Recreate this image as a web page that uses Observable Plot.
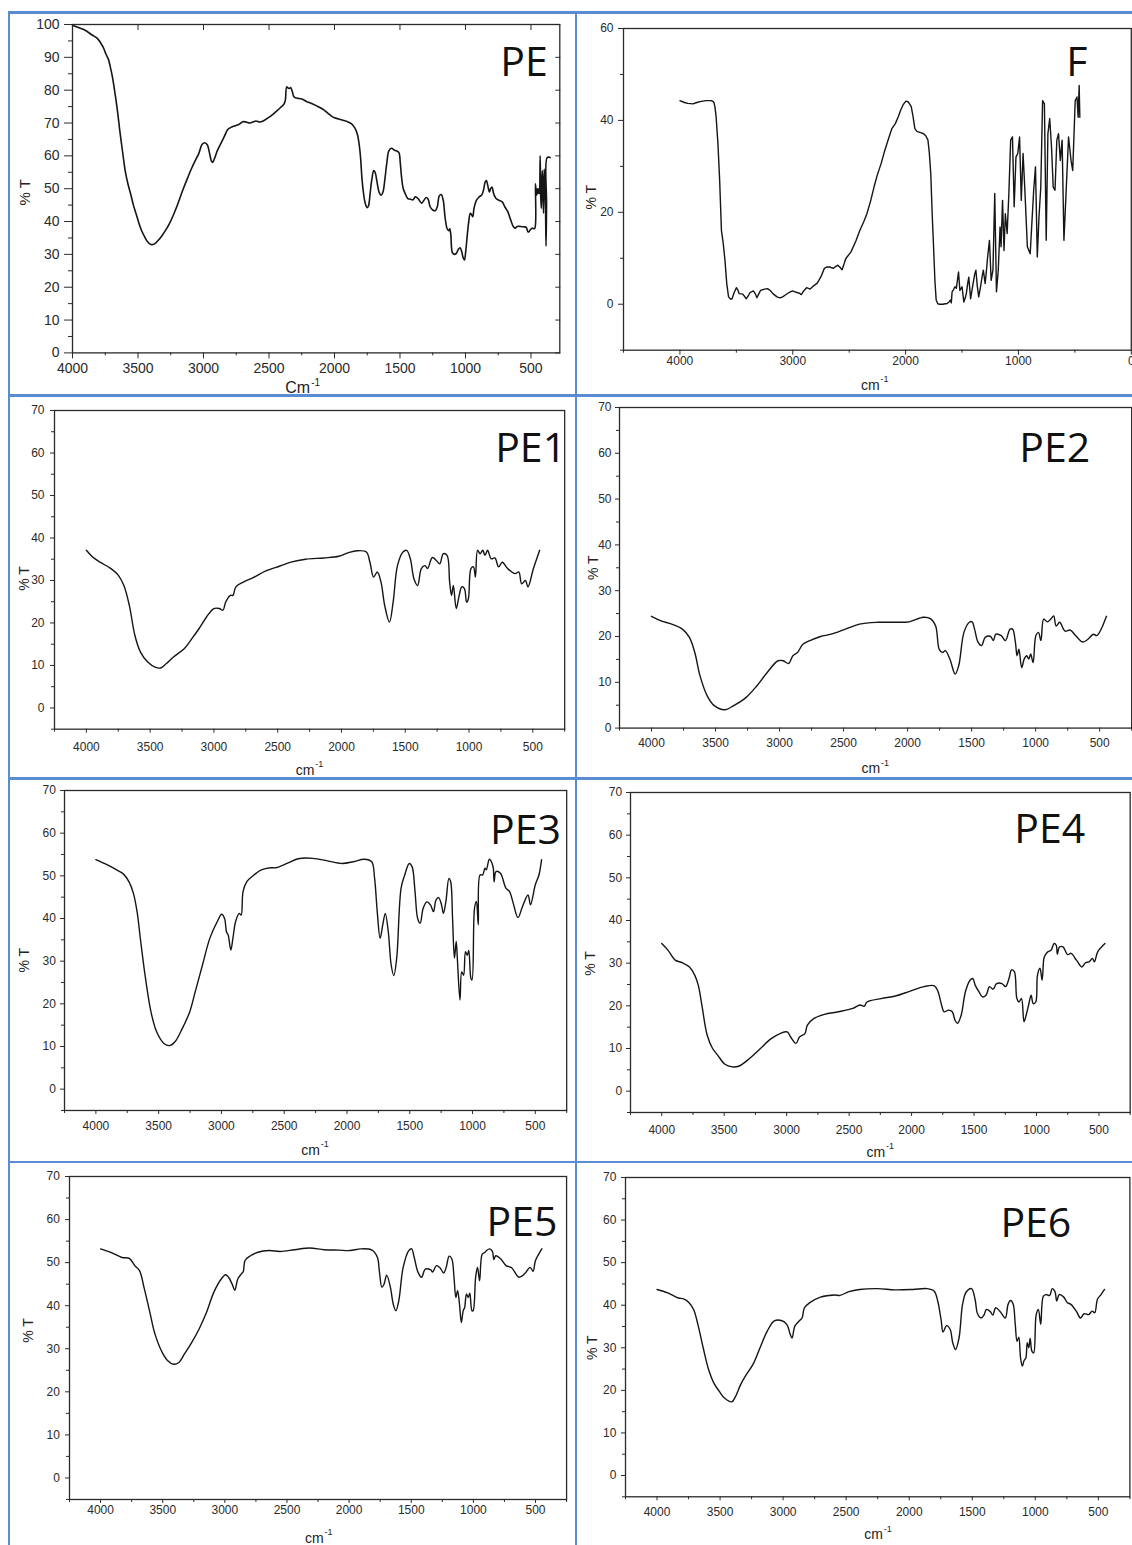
<!DOCTYPE html>
<html><head><meta charset="utf-8">
<script src="https://cdn.jsdelivr.net/npm/d3@7"></script>
<script src="https://cdn.jsdelivr.net/npm/@observablehq/plot@0.6"></script>
<style>
body{margin:0;background:#fff;}
#page{position:relative;width:1132px;height:1545px;overflow:hidden;background:#fff;}
.bl{position:absolute;background:rgb(90,140,212);}
</style></head><body><div id="page"></div>
<script>
// ---------- data: [wavenumber (cm-1), %T] ----------
const PE = [[4000,99.8],[3950,99],[3907,98.3],[3850,96.8],[3809,95.7],[3767,93.2],[3745,91],[3725,89.3],[3711,87],[3695,84],[3683,81],[3668,77],[3654,72.8],[3640,68],[3626,63.7],[3612,59.5],[3598,55.5],[3577,51.5],[3556,48.4],[3535,45],[3514,42.3],[3493,39.5],[3472,37.2],[3450,35.4],[3430,34],[3402,33],[3374,33.2],[3345,34.3],[3317,35.7],[3290,37.3],[3261,39.3],[3233,41.7],[3205,44.4],[3177,47.5],[3149,50.5],[3121,53.3],[3093,56],[3065,58.4],[3037,60.6],[3010,63.5],[2990,64],[2970,63.3],[2955,61],[2940,58.5],[2930,58],[2915,59.3],[2895,61.5],[2868,63.7],[2840,66],[2815,68],[2784,68.8],[2755,69.2],[2728,69.6],[2700,70.4],[2675,70.3],[2650,70],[2625,70.3],[2600,70.6],[2570,70.3],[2545,70.6],[2510,71.5],[2475,72.5],[2440,73.7],[2410,74.8],[2385,75.8],[2375,77],[2365,81],[2355,80.7],[2345,80.5],[2335,80.8],[2322,79.6],[2310,78],[2290,77.6],[2250,77.3],[2210,76.5],[2166,75.8],[2120,74.9],[2081,74],[2045,72.8],[2011,71.8],[1975,71.3],[1941,70.9],[1905,70.5],[1871,69.8],[1845,68.5],[1825,66.5],[1810,63],[1800,59],[1790,53],[1778,48.5],[1765,45.5],[1750,44.2],[1740,44.8],[1728,48.5],[1716,52.5],[1700,55.5],[1690,55],[1675,52],[1660,49],[1645,48],[1630,49],[1615,53],[1600,58],[1585,61.5],[1565,62.3],[1545,61.8],[1525,61.5],[1508,61],[1498,58],[1488,53.5],[1475,50],[1460,48.5],[1440,47],[1420,46.8],[1400,46.6],[1385,47.5],[1370,47.3],[1355,46.6],[1335,45.6],[1320,46.3],[1300,47.3],[1285,46.8],[1270,44.5],[1250,43.5],[1230,43.3],[1215,44.5],[1200,47.8],[1185,48.2],[1170,46.5],[1155,41],[1140,37.8],[1128,37.2],[1120,37.8],[1112,36],[1100,30.5],[1085,30],[1070,30.3],[1055,31.5],[1042,32],[1030,31],[1018,29],[1008,28.3],[998,31],[986,36],[975,40],[963,42.5],[952,42],[944,41.5],[935,44],[916,46.5],[895,47.5],[874,48.2],[860,50],[850,52],[840,52.5],[830,51],[817,49],[808,50],[798,50.5],[785,48.5],[767,47],[745,46.5],[719,46],[700,44.5],[677,43],[655,40.5],[635,38.5],[621,38],[605,38.5],[580,38.5],[555,38.4],[536,38.2],[525,37],[517,36.8],[505,37.5],[489,38],[480,37.8],[470,38],[466,51.5],[458,48],[452,50],[447,48.5],[441,50],[435,48.5],[430,60],[425,47],[421,44],[417,52],[413,55.5],[408,48],[404,42.5],[399,56],[394,50],[390,47],[385,32.5],[381,45],[376,59.5],[354,59.5]];

const F = [[4000,44.3],[3960,43.9],[3931,43.7],[3884,43.6],[3850,43.9],[3821,44.1],[3770,44.3],[3720,44.3],[3700,44],[3690,43],[3679,40.7],[3663,34.9],[3648,27],[3632,16],[3616,13.2],[3601,9.6],[3585,4.5],[3569,1.6],[3550,1.1],[3538,1.2],[3520,2.5],[3500,3.6],[3485,3],[3475,2.3],[3443,2.2],[3412,1.2],[3395,1.8],[3380,2.5],[3349,2.9],[3330,2.2],[3318,1.4],[3300,2.3],[3286,3],[3250,3.3],[3223,3.4],[3200,3],[3176,2.3],[3140,1.6],[3113,1.4],[3090,1.6],[3066,2],[3030,2.6],[3003,2.9],[2980,2.7],[2956,2.5],[2940,2.4],[2924,2.1],[2900,3],[2877,3.6],[2846,3.3],[2815,4],[2783,4.6],[2750,6],[2720,7.8],[2700,8.1],[2673,8.1],[2641,7.8],[2620,8.2],[2600,8.5],[2580,8],[2563,7.5],[2545,8.8],[2531,9.9],[2484,11.4],[2440,13.8],[2405,16.1],[2370,18],[2343,19.7],[2310,22.5],[2280,25.5],[2250,28.2],[2217,30.6],[2190,33],[2170,34.6],[2145,36.5],[2122,38.2],[2091,39.3],[2065,40.8],[2044,42.2],[2020,43.5],[1997,44.2],[1975,44],[1950,43],[1935,41],[1918,38.2],[1900,37.6],[1887,37.5],[1860,37.3],[1840,37.1],[1820,36.6],[1802,35.7],[1790,33],[1777,28.4],[1765,20],[1751,11.7],[1740,5],[1729,0.9],[1715,0.1],[1698,0],[1670,0],[1650,0.1],[1635,0.1],[1615,0.5],[1603,0.9],[1595,0.3],[1588,2.7],[1575,3.2],[1563,3.8],[1550,3.5],[1541,5.2],[1531,7],[1525,5],[1519,3],[1500,3.8],[1484,0.5],[1470,1.5],[1462,2.3],[1450,4.5],[1440,5.9],[1432,3.5],[1424,1.2],[1412,3],[1399,4.9],[1388,6.5],[1377,7.4],[1365,4],[1352,1.6],[1336,3.8],[1322,6],[1311,7.4],[1295,4.5],[1285,7],[1273,10.3],[1257,13.9],[1242,5.2],[1226,7.4],[1210,24.1],[1195,2.7],[1179,7.4],[1163,16.8],[1154,12.5],[1141,22.6],[1128,11.7],[1116,19.7],[1100,15.4],[1085,24.1],[1069,35.7],[1053,36.4],[1038,21.2],[1022,32],[1006,32.8],[990,36.4],[975,22.6],[959,32.8],[943,24.8],[921,12.5],[896,11],[865,24.8],[849,29.9],[833,10.3],[818,19],[802,25.5],[786,44.3],[770,43.6],[754,13.9],[739,37.1],[723,40.4],[707,34.2],[692,25.5],[676,24.8],[660,35.7],[645,37.1],[629,31.3],[613,35.7],[597,13.9],[581,22.6],[556,36.4],[534,31.3],[519,29.1],[497,44.3],[481,45.1],[471,40.7],[462,47.6],[456,40.7]];

const PE1 = [[4000,37.1],[3951,35.5],[3893,34.3],[3807,32.8],[3749,31.2],[3706,28.8],[3663,24.1],[3620,17.1],[3577,13.2],[3519,10.8],[3461,9.6],[3418,9.4],[3375,10.4],[3317,12],[3231,14],[3173,16.3],[3116,18.7],[3058,21.4],[3001,23.4],[2957,23.4],[2929,23],[2908,24.9],[2871,26.5],[2851,26.5],[2828,28.5],[2770,29.6],[2684,30.8],[2597,32.2],[2482,33.4],[2396,34.3],[2281,35],[2137,35.3],[2021,35.7],[1949,36.5],[1877,37],[1805,36.7],[1777,34.3],[1748,30.8],[1719,32],[1690,29.6],[1661,24.1],[1624,20.2],[1595,24.9],[1561,33.5],[1518,36.7],[1489,37.1],[1460,35.1],[1432,30.4],[1403,28.8],[1374,32.8],[1345,33.5],[1325,32.8],[1287,35.4],[1244,34.3],[1229,33.9],[1201,36.3],[1172,35.9],[1152,29.6],[1137,26.5],[1123,28.8],[1100,23.4],[1077,26.5],[1057,28.5],[1036,28.1],[1019,24.9],[1005,25.7],[985,32.8],[965,33.2],[950,30.8],[933,37.1],[913,36.3],[892,37.1],[875,35.9],[855,37.1],[826,35.1],[797,35.3],[768,33.2],[739,34.3],[697,32.8],[639,31.6],[610,32],[587,29.2],[558,30],[538,28.5],[495,32.8],[446,37.1]];

const PE2 = [[4000,24.4],[3925,23.4],[3842,22.7],[3759,21.6],[3704,19.8],[3662,16.5],[3621,11.4],[3566,7.1],[3510,4.9],[3427,4],[3358,4.9],[3261,6.7],[3178,9.2],[3095,12.2],[3012,14.7],[2971,14.7],[2929,14.1],[2896,15.8],[2860,16.5],[2818,18.3],[2763,19.1],[2680,20],[2597,20.5],[2486,21.6],[2376,22.7],[2237,23.1],[2099,23.1],[1988,23.2],[1878,24.2],[1822,23.9],[1781,22.3],[1753,17.2],[1726,16.5],[1706,16.9],[1670,15.1],[1629,11.8],[1601,13.6],[1560,20.9],[1518,23.1],[1496,23.2],[1477,21.6],[1449,18.7],[1422,18],[1394,19.8],[1352,20],[1330,19.1],[1311,20.5],[1269,20.2],[1236,19.1],[1200,21.6],[1180,21.6],[1158,18.7],[1145,15.8],[1131,17.2],[1109,13.2],[1089,15.1],[1070,15.8],[1053,15.1],[1039,16.2],[1020,14.3],[998,20.2],[978,20.9],[959,19.1],[937,23.8],[909,23.2],[881,23.8],[859,24.5],[840,22.3],[812,23.1],[771,21.2],[729,21.4],[688,20.2],[633,18.8],[591,19.4],[549,20.5],[522,20.2],[447,24.4]];

const PE3 = [[4000,53.8],[3912,52.6],[3824,51.2],[3780,50.4],[3736,48.6],[3701,45.9],[3672,41.6],[3643,34.6],[3605,26],[3561,18.1],[3517,13.5],[3458,10.7],[3414,10.2],[3370,11.1],[3312,14.2],[3253,18.1],[3209,22.8],[3151,29.1],[3092,35.4],[3033,39.3],[2998,41],[2975,40],[2960,36.9],[2946,36.1],[2925,32.6],[2907,35.7],[2887,39.3],[2858,41.2],[2843,40.8],[2828,46.3],[2799,48.6],[2741,50.2],[2682,51.4],[2609,51.9],[2565,51.9],[2477,52.9],[2389,54],[2272,54.1],[2155,53.5],[2038,52.9],[1950,53.3],[1862,53.9],[1803,53.3],[1780,49.4],[1759,41.6],[1736,35.4],[1715,38.5],[1695,41.2],[1671,36.9],[1648,29.1],[1627,26.6],[1604,30.7],[1569,47.1],[1540,50.2],[1504,52.9],[1481,52.1],[1458,46.3],[1437,40],[1417,38.9],[1393,42.4],[1364,43.9],[1335,43.2],[1311,41.6],[1291,44.3],[1270,44.9],[1247,43.2],[1232,41.2],[1212,44],[1188,49.4],[1174,48.6],[1159,40],[1144,30.7],[1130,34.6],[1121,30.7],[1100,20.9],[1086,27.5],[1071,26.7],[1056,32.2],[1042,31.4],[1030,32.5],[1013,26],[1004,25.6],[984,42.4],[969,44],[954,38.5],[940,50.2],[919,50.2],[901,51.8],[890,51.4],[866,53.9],[837,52.2],[828,48.6],[813,51],[778,50.6],[734,47.1],[705,46.3],[676,43.6],[638,40.2],[602,42.8],[558,45.5],[538,43.2],[500,47.9],[471,50.2],[450,53.8]];

const PE4 = [[4000,34.6],[3949,33],[3892,30.7],[3835,30.1],[3778,29.1],[3736,27.2],[3707,24.8],[3679,20.2],[3636,13.1],[3593,10],[3551,8.4],[3494,6.3],[3437,5.7],[3380,5.9],[3295,7.7],[3210,10],[3124,12.3],[3053,13.5],[2996,13.9],[2968,12.7],[2925,11.2],[2897,12.7],[2854,13.5],[2834,15.5],[2783,17],[2698,18],[2584,18.6],[2470,19.4],[2414,20.2],[2379,19.9],[2357,20.9],[2243,21.7],[2129,22.3],[2016,23.4],[1902,24.5],[1817,24.7],[1788,23.3],[1760,20.2],[1740,18.6],[1703,19],[1674,18.6],[1652,16.6],[1632,15.9],[1603,17.8],[1569,23.3],[1532,26],[1510,26.4],[1490,24.8],[1461,23.3],[1433,22.1],[1404,22.5],[1376,24.5],[1348,23.9],[1319,25.2],[1276,25.2],[1248,24.5],[1220,26.4],[1200,28.4],[1177,28],[1157,21.7],[1140,20.9],[1120,21.7],[1100,16.3],[1083,17.8],[1063,20.2],[1043,22.5],[1026,20.5],[1006,20.9],[992,27.2],[972,28.8],[955,26],[941,31.1],[930,31.9],[907,32.7],[884,33],[859,34.6],[842,34.2],[833,32.1],[816,33.8],[788,33.8],[751,32],[723,32.3],[680,30.7],[637,29.1],[608,30.1],[580,30.3],[552,31.1],[537,30.3],[509,32.7],[452,34.6]];

const PE5 = [[4000,53.2],[3917,52.4],[3828,51.2],[3769,51],[3725,49.3],[3686,48.1],[3651,44.3],[3606,38.8],[3562,33.4],[3503,29.1],[3459,27.2],[3414,26.4],[3370,26.8],[3325,28.8],[3266,31.5],[3207,34.6],[3148,38.4],[3089,43.1],[3029,46.2],[2994,47.2],[2970,46.6],[2941,45],[2920,43.6],[2896,46.2],[2867,47.4],[2852,47.9],[2837,50.5],[2793,51.6],[2734,52.4],[2645,52.8],[2556,52.6],[2438,53],[2319,53.4],[2201,53],[2083,52.9],[1994,52.8],[1905,53.2],[1816,52.9],[1772,51.2],[1757,48.1],[1736,44.3],[1719,45],[1698,47.1],[1668,44.3],[1645,40.4],[1624,38.8],[1600,41.2],[1565,48.9],[1520,52.8],[1497,53.2],[1476,51.2],[1446,47.8],[1417,46.6],[1387,48.5],[1343,48.3],[1328,47.8],[1298,49.3],[1269,48.8],[1239,47.6],[1219,48.9],[1195,51.5],[1174,50.9],[1156,46.6],[1141,41.9],[1127,43.5],[1112,40.4],[1097,36.1],[1082,38.8],[1070,39.6],[1056,42.7],[1041,41.9],[1029,42.9],[1011,38.8],[1002,38.8],[982,46.6],[967,48.9],[950,45.8],[929,52],[906,52.4],[894,52.8],[870,53.2],[847,52.6],[835,50.7],[820,51.6],[781,50.9],[737,49.3],[692,48.8],[633,46.6],[588,47.4],[544,48.9],[520,48],[500,50.5],[449,53.2]];

const PE6 = [[4000,43.7],[3915,42.9],[3831,41.7],[3789,41.5],[3746,40.6],[3710,39],[3676,35.5],[3634,30],[3591,24.9],[3549,21.7],[3507,19.8],[3465,18.2],[3408,17.3],[3380,18.4],[3338,21.3],[3296,23.5],[3239,26.1],[3183,30],[3126,33.9],[3070,36.3],[3014,36.4],[2971,35.5],[2943,33.1],[2929,32.3],[2907,35.1],[2873,36.3],[2850,37],[2831,39.4],[2788,40.6],[2704,41.9],[2591,42.4],[2549,42.3],[2478,43.2],[2394,43.7],[2253,43.9],[2112,43.6],[1971,43.7],[1858,43.9],[1802,43.3],[1774,41],[1746,36.3],[1732,33.7],[1703,35.2],[1675,34.3],[1655,31.2],[1633,29.6],[1605,32.3],[1577,40.2],[1548,43.1],[1506,43.9],[1478,41.4],[1458,38],[1430,37],[1407,37.7],[1388,39],[1357,38.5],[1337,37.7],[1314,39.4],[1281,38.6],[1238,37],[1216,40.2],[1196,41.1],[1176,40.3],[1159,35.5],[1145,31.5],[1131,32.5],[1117,27.6],[1103,25.7],[1089,27],[1075,27.6],[1064,31.2],[1052,30],[1041,32.2],[1027,29.2],[1013,28.8],[993,37.8],[976,39],[957,35.5],[937,42.1],[915,42.5],[886,42.3],[866,43.9],[844,43.2],[830,41],[810,42.5],[774,41.9],[746,40.6],[718,40.2],[675,38.6],[642,37],[613,38],[577,37.8],[549,38.6],[529,38.2],[507,41.4],[479,42.5],[451,43.7]];

// ---------- tick values ----------
const xMajorPE = [4000,3500,3000,2500,2000,1500,1000,500];
const xMinorPE = [3750,3250,2750,2250,1750,1250,750];
const yMajorPE = [0,10,20,30,40,50,60,70,80,90,100];
const yMinorPE = [5,15,25,35,45,55,65,75,85,95];
const xMajorF = [4000,3000,2000,1000,0];
const xMinorF = [4500,3500,2500,1500,500];
const yMajorF = [0,20,40,60];
const yMinorF = [-10,10,30,50];
const xMajor = [4000,3500,3000,2500,2000,1500,1000,500];
const xMinor = [4250,3750,3250,2750,2250,1750,1250,750,250];
const yMajor = [0,10,20,30,40,50,60,70];
const yMinor = [-5,5,15,25,35,45,55,65];

// ---------- layout (page pixel coordinates) ----------
const panels = [
 {name:"PE", data:PE, frame:[71.7,559,24.3,352.7], xDomain:[4000,280], yDomain:[0,100],
  xMaj:xMajorPE, xMin:xMinorPE, yMaj:yMajorPE, yMin:yMinorPE, tickFont:14, xTick:6, xPad:4.6, yTick:8, yPad:5,
  nameAt:[547,47], yLabAt:[24,192], yLabSize:15, xLab:"Cm", xLabAt:[302,388], xLabSize:16, supRaise:5.5, mirror:true, curve:"catmull-rom"},
 {name:"F", data:F, frame:[623.2,1131,28.3,350], xDomain:[4500,0], yDomain:[-10,60],
  xMaj:xMajorF, xMin:xMinorF, yMaj:yMajorF, yMin:yMinorF, tickFont:12, xTick:5, xPad:1, yTick:5, yPad:5,
  nameAt:[1087,47], yLabAt:[591,197], yLabSize:14, xLab:"cm", xLabAt:[874.5,385], xLabSize:14, supRaise:6, curve:"linear"},
 {name:"PE1", data:PE1, frame:[54.4,564.6,410,728.7], xDomain:[4250,250], yDomain:[-5,70],
  xMaj:xMajor, xMin:xMinor, yMaj:yMajor, yMin:yMinor, tickFont:12, xTick:4, xPad:9, yTick:4, yPad:6,
  nameAt:[566,432], yLabAt:[24.6,578], yLabSize:14, xLab:"cm", xLabAt:[309.5,770], xLabSize:14, supRaise:6, curve:"catmull-rom"},
 {name:"PE2", data:PE2, frame:[619.3,1131.5,406.7,727.3], xDomain:[4250,250], yDomain:[0,70],
  xMaj:xMajor, xMin:xMinor, yMaj:yMajor, yMin:yMinor, tickFont:12, xTick:4, xPad:6.7, yTick:4, yPad:4,
  nameAt:[1090,432], yLabAt:[593,567], yLabSize:14, xLab:"cm", xLabAt:[875,768], xLabSize:14, supRaise:6, curve:"catmull-rom"},
 {name:"PE3", data:PE3, frame:[63.6,565.8,790.3,1110.3], xDomain:[4250,250], yDomain:[-5,70],
  xMaj:xMajor, xMin:xMinor, yMaj:yMajor, yMin:yMinor, tickFont:12, xTick:4, xPad:7, yTick:4, yPad:4.6,
  nameAt:[560,814.7], yLabAt:[24,960], yLabSize:14, xLab:"cm", xLabAt:[314,1150], xLabSize:14, supRaise:6, curve:"catmull-rom"},
 {name:"PE4", data:PE4, frame:[630.3,1130,792,1112], xDomain:[4250,250], yDomain:[-5,70],
  xMaj:xMajor, xMin:xMinor, yMaj:yMajor, yMin:yMinor, tickFont:12, xTick:4, xPad:9, yTick:4, yPad:4.3,
  nameAt:[1085,813], yLabAt:[590,963], yLabSize:14, xLab:"cm", xLabAt:[880,1152], xLabSize:14, supRaise:6, curve:"catmull-rom"},
 {name:"PE5", data:PE5, frame:[68.7,565.8,1176,1499], xDomain:[4250,250], yDomain:[-5,70],
  xMaj:xMajor, xMin:xMinor, yMaj:yMajor, yMin:yMinor, tickFont:12, xTick:4, xPad:1.5, yTick:4, yPad:5.7,
  nameAt:[556.6,1206.7], yLabAt:[27.5,1330], yLabSize:14, xLab:"cm", xLabAt:[318,1538], xLabSize:14, supRaise:6, curve:"catmull-rom"},
 {name:"PE6", data:PE6, frame:[624.9,1129.3,1176.7,1496], xDomain:[4250,250], yDomain:[-5,70],
  xMaj:xMajor, xMin:xMinor, yMaj:yMajor, yMin:yMinor, tickFont:12, xTick:4, xPad:7, yTick:4, yPad:5.2,
  nameAt:[1070.7,1206.7], yLabAt:[592,1347], yLabSize:14, xLab:"cm", xLabAt:[877.5,1534], xLabSize:14, supRaise:6, curve:"catmull-rom"}
];

const page = document.getElementById("page");

// blue panel borders
const borders = [
  [7.5,11,1125,2.6],[7.5,394,1125,2.7],[7.5,777,1125,2.7],[7.5,1160.5,1125,2.7],
  [7.5,11,2.6,1534],[574.5,11,2.8,1534]
];
for (const [l,t,w,h] of borders) {
  const d = document.createElement("div");
  d.className = "bl";
  Object.assign(d.style, {left:l+"px", top:t+"px", width:w+"px", height:h+"px"});
  page.appendChild(d);
}

const tickFont = "'Liberation Sans', Arial, sans-serif";
for (const p of panels) {
  const [fl, fr, ft, fb] = p.frame;
  const mL = 64, mR = 24, mT = 24, mB = 60;
  const W = fr - fl + mL + mR, H = fb - ft + mT + mB;
  const xlo = Math.min(...p.xDomain), xhi = Math.max(...p.xDomain);
  const ylo = Math.min(...p.yDomain), yhi = Math.max(...p.yDomain);
  const inX = v => v >= xlo && v <= xhi, inY = v => v >= ylo && v <= yhi;
  const fcx = (fl + fr) / 2, fcy = (ft + fb) / 2;
  const bigW = p.xLab === "Cm" ? 25 : 18.5;
  const supSize = p.xLab === "Cm" ? 10 : 9;
  const marks = [
    Plot.line(p.data, {x: d => d[0], y: d => d[1], stroke: "#151515", strokeWidth: p.mirror ? 1.6 : 1.4, curve: p.curve}),
    Plot.frame({stroke: "#2a2a2a", strokeWidth: 1.3}),
    Plot.axisX({ticks: p.xMin.filter(inX), tickSize: 3, tickFormat: () => "", label: null}),
    Plot.axisX({ticks: p.xMaj.filter(inX), tickSize: p.xTick, tickPadding: p.xPad, tickFormat: d => String(d), label: null}),
    Plot.axisY({ticks: p.yMin.filter(inY), tickSize: p.mirror ? 4 : 3, tickFormat: () => "", label: null}),
    Plot.axisY({ticks: p.yMaj.filter(inY), tickSize: p.yTick, tickPadding: p.yPad, tickFormat: d => String(d), label: null}),
    Plot.text([p.name], {frameAnchor: "top-right", dx: p.nameAt[0] - fr, dy: p.nameAt[1] - ft,
      textAnchor: "end", lineAnchor: "top", fontSize: 41, fontFamily: "'Open Sans', sans-serif", fill: "#111"}),
    Plot.text(["% T"], {frameAnchor: "left", dx: p.yLabAt[0] - fl, dy: p.yLabAt[1] - fcy, rotate: -90,
      textAnchor: "middle", lineAnchor: "middle", fontSize: p.yLabSize, fontFamily: tickFont, fill: "#222"}),
    Plot.text([p.xLab], {frameAnchor: "bottom", dx: p.xLabAt[0] - fcx - (bigW + supSize) / 2, dy: p.xLabAt[1] - fb,
      textAnchor: "start", lineAnchor: "middle", fontSize: p.xLabSize, fontFamily: tickFont, fill: "#222"}),
    Plot.text(["-1"], {frameAnchor: "bottom", dx: p.xLabAt[0] - fcx - (bigW + supSize) / 2 + bigW + 1, dy: p.xLabAt[1] - fb - p.supRaise,
      textAnchor: "start", lineAnchor: "middle", fontSize: supSize, fontFamily: tickFont, fill: "#222"})
  ];
  if (p.mirror) {
    marks.push(Plot.axisX({anchor: "top", ticks: p.xMaj.filter(inX), tickSize: -5, tickFormat: () => "", label: null}));
    marks.push(Plot.axisY({anchor: "right", ticks: p.yMaj.filter(inY), tickSize: -5, tickFormat: () => "", label: null}));
  }
  const svg = Plot.plot({
    width: W, height: H, marginLeft: mL, marginRight: mR, marginTop: mT, marginBottom: mB,
    style: {background: "transparent", fontFamily: tickFont, fontSize: p.tickFont + "px", color: "#2a2a2a", overflow: "visible"},
    x: {domain: p.xDomain, label: null},
    y: {domain: p.yDomain, label: null},
    marks
  });
  svg.style.position = "absolute";
  svg.style.left = (fl - mL) + "px";
  svg.style.top = (ft - mT) + "px";
  page.appendChild(svg);
}
</script>
</body></html>
